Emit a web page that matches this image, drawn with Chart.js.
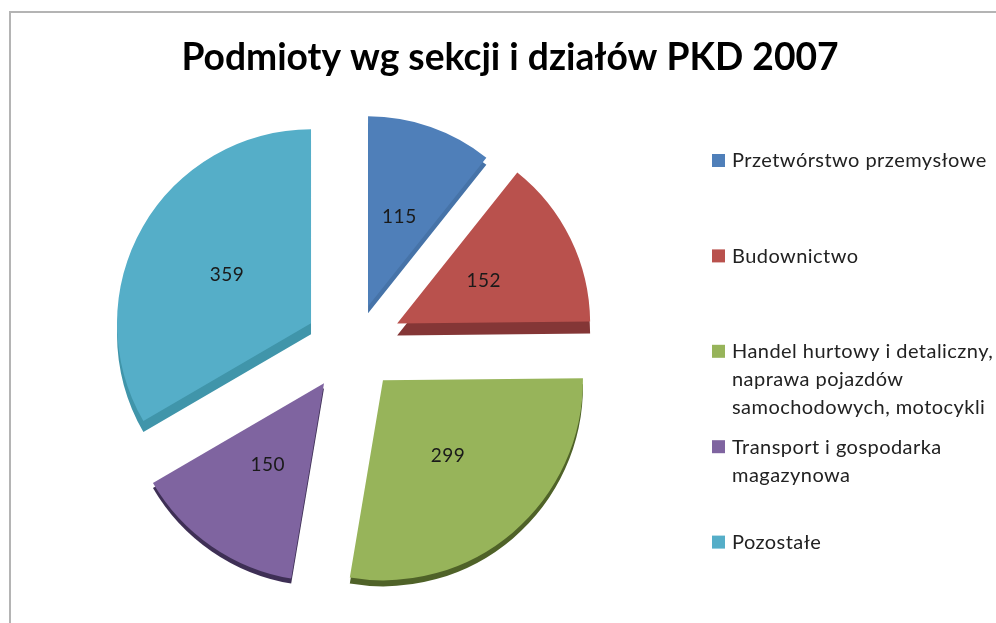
<!DOCTYPE html>
<html>
<head>
<meta charset="utf-8">
<title>Podmioty wg sekcji i działów PKD 2007</title>
<script src="https://cdn.jsdelivr.net/npm/chart.js@4"></script>
<style>
  body { margin: 0; background: #fff; }
  #frame { position: absolute; left: 9px; top: 11px; width: 987px; height: 612px; border-top: 2px solid #b4b4b4; border-left: 2px solid #b4b4b4; box-sizing: border-box; }
  canvas { position: absolute; left: 0; top: 0; filter: blur(0.7px); }
</style>
</head>
<body>
<div id="frame"></div>
<canvas id="pieChart" width="996" height="623"></canvas>
<script>
const chartTitle = 'Podmioty wg sekcji i działów PKD 2007';
const categories = [
  ['Przetwórstwo przemysłowe'],
  ['Budownictwo'],
  ['Handel hurtowy i detaliczny,', 'naprawa pojazdów', 'samochodowych, motocykli'],
  ['Transport i gospodarka', 'magazynowa'],
  ['Pozostałe']
];
const values = [115, 152, 299, 150, 359];
const sliceColors = ['#4f7fb9', '#b9514d', '#97b45a', '#7f64a0', '#55aec8'];
const sideColors = ['#4673a8', '#843636', '#4f6228', '#3e2f55', '#4095aa'];
const sideDepth = [7, 12, 6, 5, 11];
// the original is a tilted 3d pie, so each slice gets its own pull and size
const explode = [48.9, 55, 43.6, 40.8, 48.3];
const explodeTurn = [2.4, -5, -8.6, 4.9, 6.3];
const sliceRadius = [190, 193, 200, 198, 194];

// chart.js scales arc offset by slice size, so pull slices out here instead
const pieExtras = {
  id: 'pieExtras',
  afterLayout(chart) {
    chart.titleBlock.left = 24;
    chart.titleBlock.right = 996;
  },
  afterDatasetUpdate(chart) {
    chart.getDatasetMeta(0).data.forEach((arc, i) => {
      const dir = (arc.startAngle + arc.endAngle) / 2 + explodeTurn[i] * Math.PI / 180;
      arc.x += Math.cos(dir) * explode[i];
      arc.y += Math.sin(dir) * explode[i];
      arc.outerRadius = sliceRadius[i];
    });
  },
  beforeDatasetsDraw(chart) {
    const ctx = chart.ctx;
    chart.getDatasetMeta(0).data.forEach((arc, i) => {
      const orig = arc.options;
      const side = Object.create(orig);
      side.backgroundColor = sideColors[i];
      arc.options = side;
      ctx.save();
      ctx.translate(0, sideDepth[i]);
      arc.draw(ctx);
      ctx.restore();
      arc.options = orig;
    });
  },
  afterDatasetsDraw(chart) {
    const ctx = chart.ctx;
    ctx.save();
    ctx.fillStyle = '#1a1a1a';
    ctx.font = '19px Lato';
    ctx.letterSpacing = '0.5px';
    ctx.textAlign = 'center';
    ctx.textBaseline = 'middle';
    chart.getDatasetMeta(0).data.forEach((arc, i) => {
      const mid = (arc.startAngle + arc.endAngle) / 2;
      const r = arc.outerRadius / 2;
      ctx.fillText(values[i], arc.x + Math.cos(mid) * r, arc.y + Math.sin(mid) * r);
    });
    // legend, rows are evenly spaced by first line
    ctx.textAlign = 'left';
    ctx.font = '20px Lato';
    ctx.letterSpacing = '0.45px';
    categories.forEach((lines, i) => {
      const y = 161 + i * 95.4;
      ctx.fillStyle = sliceColors[i];
      ctx.fillRect(712, y - 7, 13, 13);
      ctx.fillStyle = '#222';
      lines.forEach((line, j) => ctx.fillText(line, 732, y + j * 28));
    });
    ctx.restore();
  }
};

const ctx = document.getElementById('pieChart').getContext('2d');
new Chart(ctx, {
  type: 'pie',
  data: {
    labels: categories.map(c => c.join(' ')),
    datasets: [{
      data: values,
      backgroundColor: sliceColors,
      borderWidth: 0
    }]
  },
  options: {
    responsive: false,
    animation: false,
    events: [],
    radius: 196,
    layout: { padding: { left: 115, right: 411, top: 0, bottom: 36 } },
    plugins: {
      legend: { display: false },
      tooltip: { enabled: false },
      title: {
        display: true,
        text: chartTitle,
        color: '#000',
        font: { family: 'Lato', size: 37.2, weight: 'bold', lineHeight: 1.2 },
        padding: { top: 36, bottom: 36 }
      }
    }
  },
  plugins: [pieExtras]
});
</script>
</body>
</html>
